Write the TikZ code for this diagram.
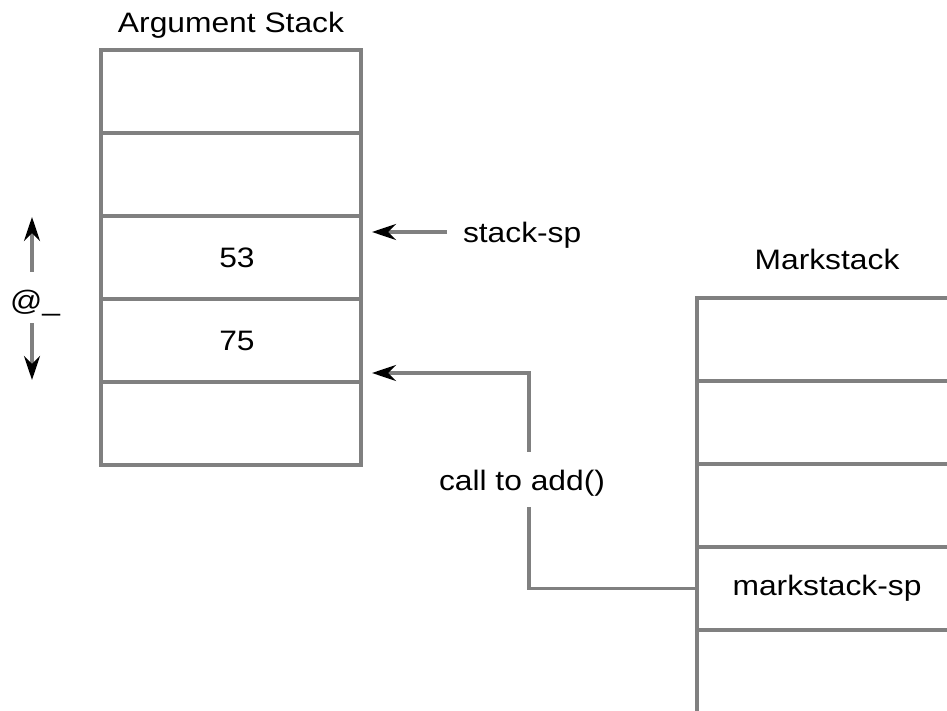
\documentclass[tikz,border=0pt]{standalone}
\usepackage{fontspec}
\setmainfont[FakeStretch=1.13]{Liberation Sans}
\usetikzlibrary{positioning,arrows.meta}
\definecolor{linegray}{RGB}{128,128,128}
\tikzset{
    cell/.style={draw=linegray, line width=2pt, minimum width=5.2cm, minimum height=1.66cm, inner sep=0pt, outer sep=0pt},
    title/.style={inner sep=0pt, outer sep=0pt, text depth=0pt},
    ptr/.style={draw=linegray, line width=2pt, -{Stealth[black,length=0.48cm,width=0.32cm,inset=0.16cm]}},
}
\begin{document}
\begin{tikzpicture}[font=\fontsize{16}{19}\selectfont]
    \useasboundingbox (0,0) rectangle (18.94,14.2);
    % argument stack, five cells from the top
    \foreach \lbl [count=\i] in {{},{},53,75,{}}
        {
            \node[cell] (a\i) at (4.62,{14.03-1.66*\i}) {\hspace{0.24cm}\lbl};
        }
    % markstack, runs off the right and bottom edge
    \foreach \lbl [count=\i] in {{},{},{},markstack-sp,{}}
        {
            \node[cell] (m\i) at (16.54,{9.07-1.66*\i}) {\lbl};
        }
    \node[title, above=0.34cm of a1] (argtitle) {Argument Stack};
    \node[title, above=0.56cm of m1] (marktitle) {Markstack};

    % stack pointer
    \node[title, anchor=west] (sp) at (9.26,9.56) {stack-sp};
    \coordinate (sptip) at (7.44,9.56);
    \draw[ptr, shorten <=0.32cm] (sp.west) -- (sptip);

    % @_ covers the two arguments
    \node[title] (argv) at (0.7,8.2) {@\_};
    \coordinate (uptip) at (0.64,9.86);
    \coordinate (downtip) at (0.64,6.6);
    \draw[ptr, shorten <=0.36cm] (argv.north -| uptip) -- (uptip);
    \draw[ptr, shorten <=0.26cm] (argv.south -| downtip) -- (downtip);

    % markstack-sp points back below the arguments
    \coordinate (bend) at (10.58,6.74);
    \coordinate (calltip) at (7.44,6.74);
    \draw[ptr] (m4.west) -| (bend) -- (calltip);
    \node[title, fill=white, minimum height=1.1cm, inner xsep=1pt] (call) at (10.44,4.6) {call to add()};
\end{tikzpicture}
\end{document}
